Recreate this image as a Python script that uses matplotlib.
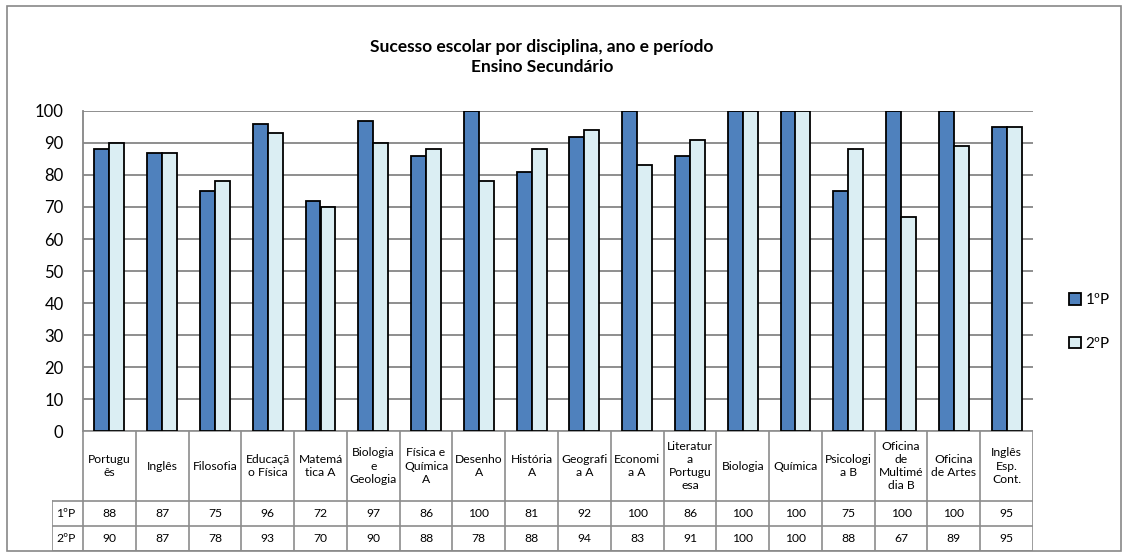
import matplotlib
matplotlib.use("Agg")
import matplotlib.pyplot as plt
from matplotlib.patches import Rectangle

plt.rcParams['font.family'] = ['Lato', 'DejaVu Sans']

disciplinas = ["Portugu\nês", "Inglês", "Filosofia", "Educaçã\no Física", "Matemá\ntica A",
               "Biologia\ne\nGeologia", "Física e\nQuímica\nA", "Desenho\nA", "História\nA",
               "Geografi\na A", "Economi\na A", "Literatur\na\nPortugu\nesa", "Biologia",
               "Química", "Psicologi\na B", "Oficina\nde\nMultimé\ndia B", "Oficina\nde Artes",
               "Inglês\nEsp.\nCont."]
p1 = [88, 87, 75, 96, 72, 97, 86, 100, 81, 92, 100, 86, 100, 100, 75, 100, 100, 95]
p2 = [90, 87, 78, 93, 70, 90, 88, 78, 88, 94, 83, 91, 100, 100, 88, 67, 89, 95]
series = ["1ºP", "2ºP"]
cores = ["#4F81BD", "#DBEEF3"]

W, H = 1129, 557
fig = plt.figure(figsize=(W / 100, H / 100), dpi=100)

# moldura exterior
fig.patches.append(Rectangle((7 / W, 6 / H), 1114 / W, 545 / H, transform=fig.transFigure,
                             fill=False, edgecolor="#888888", linewidth=1.2))

x0, x1 = 83, 1033
ytop, ybot = 111, 431
ax = fig.add_axes([x0 / W, (H - ybot) / H, (x1 - x0) / W, (ybot - ytop) / H])
n = len(disciplinas)
xs = [i + 0.5 for i in range(n)]
bw = 0.284
ax.bar([x - bw / 2 for x in xs], p1, width=bw, color=cores[0], edgecolor="black",
       linewidth=1.3, label=series[0], zorder=3)
ax.bar([x + bw / 2 for x in xs], p2, width=bw, color=cores[1], edgecolor="black",
       linewidth=1.3, label=series[1], zorder=3)
ax.set_xlim(0, n)
ax.set_ylim(0, 100)
ax.set_yticks(range(0, 101, 10))
ax.set_xticks([])
ax.tick_params(axis="y", length=0, pad=14, labelsize=12)
ax.yaxis.grid(True, color="#868686", linewidth=1.3, zorder=0)
for s in ["top", "right", "bottom"]:
    ax.spines[s].set_visible(False)
ax.spines["left"].set_color("#868686")
ax.spines["left"].set_linewidth(1.3)

# tabela de dados
tl = 52
tax = fig.add_axes([tl / W, (H - 551) / H, (x1 - tl) / W, (551 - 431) / H])
lab_w = (x0 - tl) / ((x1 - x0) / n)
tax.set_xlim(-lab_w, n)
tax.set_ylim(0, 120)
tax.axis("off")
lc = "#8C8C8C"
lw = 1.2
r2, r1, hd = 0, 25, 50
# linhas horizontais
tax.plot([0, n], [120, 120], color=lc, lw=lw)
for yy in [r1, hd]:
    tax.plot([-lab_w, n], [yy, yy], color=lc, lw=lw)
tax.plot([-lab_w, n], [0, 0], color=lc, lw=lw)
# linhas verticais
tax.plot([-lab_w, -lab_w], [0, hd], color=lc, lw=lw)
for i in range(n + 1):
    tax.plot([i, i], [0, 120], color=lc, lw=lw)
fs = 8.7
for i, nome in enumerate(disciplinas):
    tax.text(i + 0.5, (hd + 120) / 2, nome, ha="center", va="center", fontsize=fs,
             linespacing=1.25)
    tax.text(i + 0.5, (r1 + hd) / 2, str(p1[i]), ha="center", va="center", fontsize=fs)
    tax.text(i + 0.5, (r2 + r1) / 2, str(p2[i]), ha="center", va="center", fontsize=fs)
tax.text(-lab_w + 0.08, (r1 + hd) / 2, series[0], ha="left", va="center", fontsize=fs)
tax.text(-lab_w + 0.08, (r2 + r1) / 2, series[1], ha="left", va="center", fontsize=fs)

fig.text(0.48, (H - 57) / H, "Sucesso escolar por disciplina, ano e período\nEnsino Secundário",
         ha="center", va="center", fontsize=12.5, fontweight="bold", linespacing=1.35)

fig.legend(loc="center left", bbox_to_anchor=(1055 / W, (H - 322) / H), frameon=False,
           fontsize=11, handlelength=0.8, handleheight=0.8, handletextpad=0.3,
           labelspacing=1.9)

fig.savefig("out.png", dpi=100)
